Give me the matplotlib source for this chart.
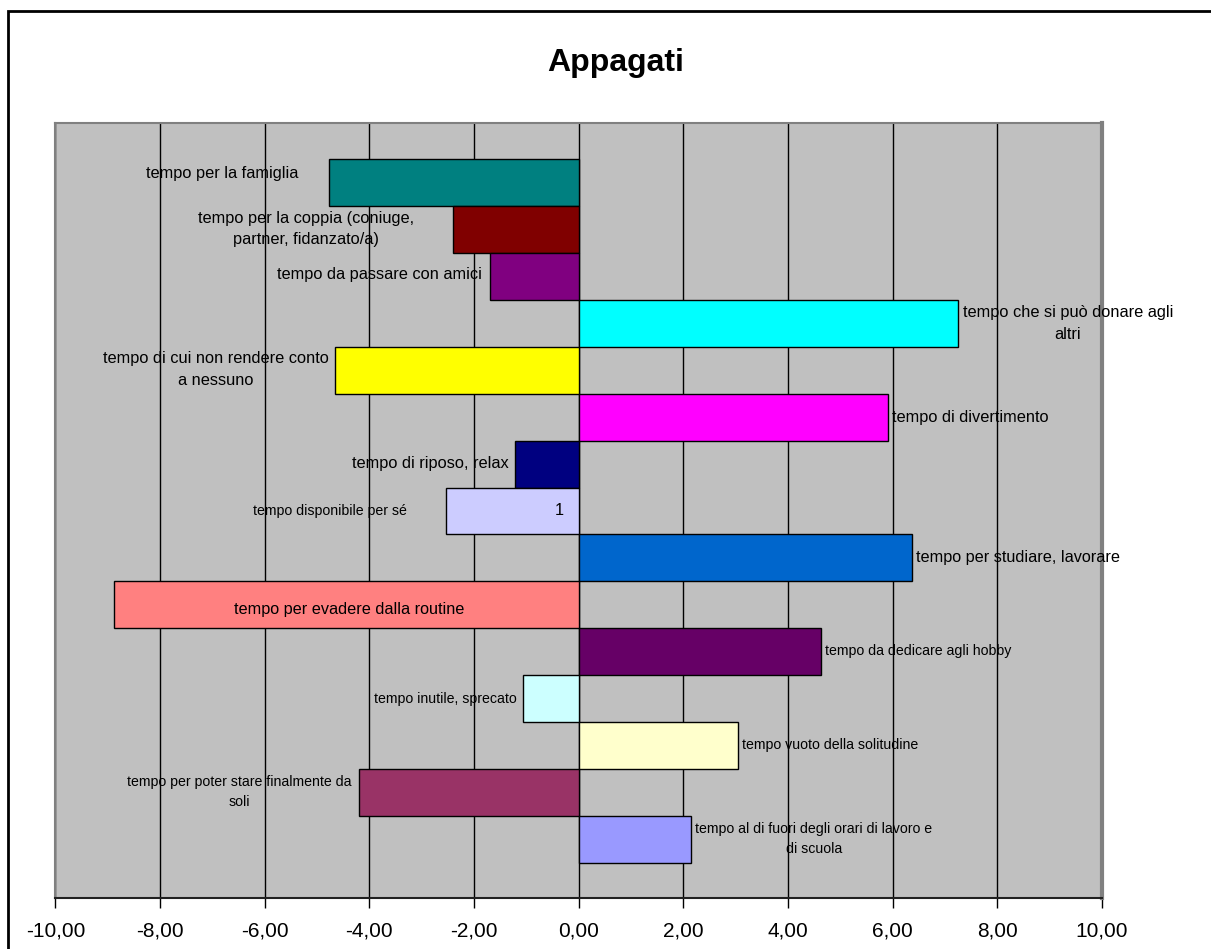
import matplotlib.pyplot as plt
from matplotlib.patches import Rectangle
from matplotlib.ticker import FuncFormatter
import numpy as np

plt.rcParams['font.family'] = ['Liberation Sans', 'DejaVu Sans']

# categories (top to bottom) and their values
labels = [
    'tempo per la famiglia',
    'tempo per la coppia (coniuge,\npartner, fidanzato/a)',
    'tempo da passare con amici',
    'tempo che si può donare agli\naltri',
    'tempo di cui non rendere conto\na nessuno',
    'tempo di divertimento',
    'tempo di riposo, relax',
    'tempo disponibile per sé',
    'tempo per studiare, lavorare',
    'tempo per evadere dalla routine',
    'tempo da dedicare agli hobby',
    'tempo inutile, sprecato',
    'tempo vuoto della solitudine',
    'tempo per poter stare finalmente da\nsoli',
    'tempo al di fuori degli orari di lavoro e\ndi scuola',
]
values = [-4.78, -2.40, -1.70, 7.25, -4.66, 5.91, -1.22, -2.54,
          6.36, -8.88, 4.63, -1.07, 3.05, -4.20, 2.14]

colors = ['#008080', '#800000', '#800080', '#00FFFF', '#FFFF00', '#FF00FF',
          '#000080', '#CCCCFF', '#0066CC', '#FF8080', '#660066', '#CCFFFF',
          '#FFFFCC', '#993366', '#9999FF']

# where each label sits (data units), as dragged in the original
label_x = [-6.81, -5.22, -3.80, 9.35, -6.94, 7.48, -2.83, -4.76,
           8.39, -4.38, 6.48, -2.54, 4.80, -6.48, 4.49]
label_y = [-0.20, 0.99, 1.95, 3.0, 3.98, 5.0, 5.98, 7.0,
           7.99, 9.1, 9.99, 11.01, 11.99, 12.98, 14.0]
label_size = [11.8, 11.8, 11.8, 11.8, 11.8, 11.8, 11.8, 10.2,
              11.7, 11.7, 10.2, 10.2, 10.2, 10.2, 10.2]

fig = plt.figure(figsize=(12.11, 9.49), dpi=100)
ax = fig.add_axes([0.0458, 0.0537, 0.8642, 0.8167])
ax.set_facecolor('#C0C0C0')

y = np.arange(len(values))
ax.set_axisbelow(True)
ax.grid(axis='x', color='black', linewidth=1)
ax.barh(y, values, height=1, color=colors, edgecolor='black', linewidth=1, zorder=3)

for i in range(len(labels)):
    ax.text(label_x[i], label_y[i], labels[i], ha='center', va='center',
            fontsize=label_size[i], linespacing=1.55, zorder=4)

# the stray value label inside the "per sé" bar
ax.text(-0.37, 7.0, '1', ha='center', va='center', fontsize=11.7, zorder=4)

ax.set_xlim(-10, 10)
ax.set_ylim(15.25, -1.27)
ax.set_xticks(np.arange(-10, 11, 2))
ax.xaxis.set_major_formatter(FuncFormatter(lambda v, p: f'{v:.2f}'.replace('.', ',')))
ax.tick_params(axis='x', length=7, width=1, labelsize=15, pad=10)
ax.set_yticks([])

for s in ['left', 'top', 'right']:
    ax.spines[s].set_color('#808080')
    ax.spines[s].set_linewidth(1.5)
ax.spines['right'].set_linewidth(3)
ax.spines['bottom'].set_color('#202020')
ax.spines['bottom'].set_linewidth(1.5)

fig.text(0.508, 0.934, 'Appagati', ha='center', va='center',
         fontsize=23, fontweight='bold')

# outer chart border (right and bottom run off the picture)
fig.patches.append(Rectangle((8 / 1211, -0.05), 1.1, (949 - 11) / 949 + 0.05,
                             transform=fig.transFigure, fill=False,
                             edgecolor='black', linewidth=2))

fig.savefig('out.png', dpi=100)
